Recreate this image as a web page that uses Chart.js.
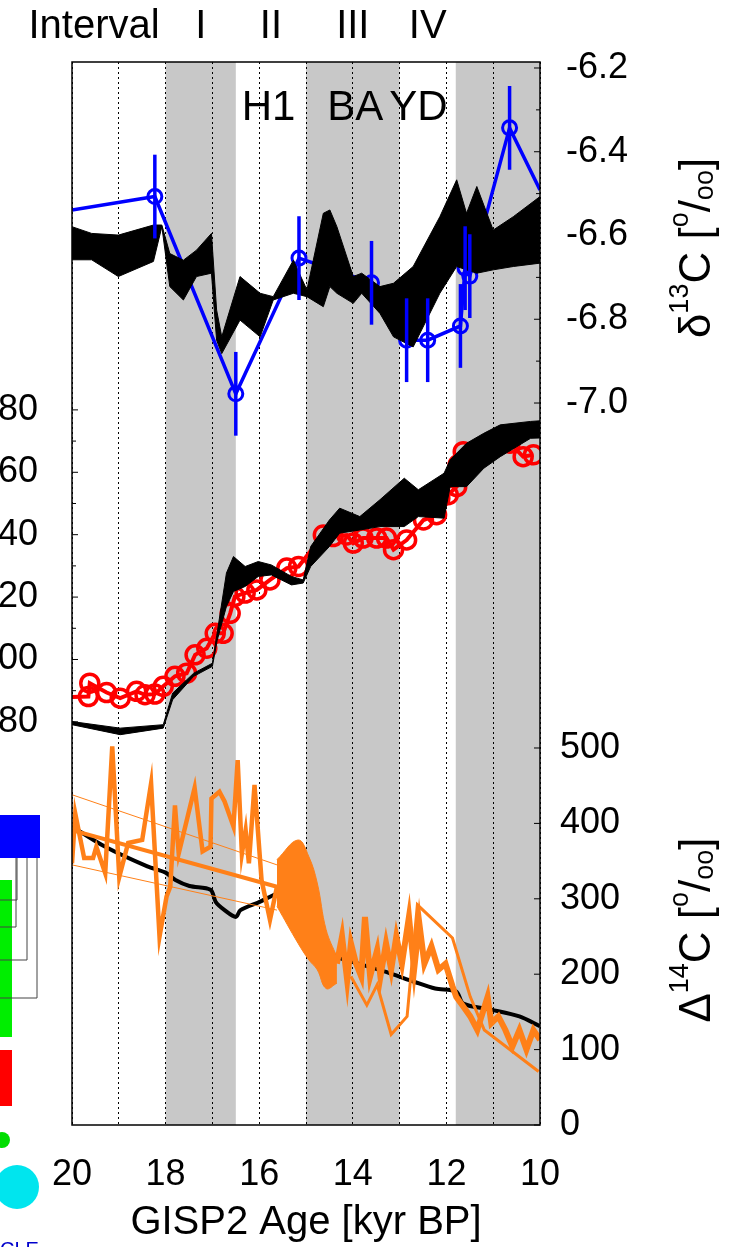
<!DOCTYPE html>
<html>
<head>
<meta charset="utf-8">
<script src="https://cdn.jsdelivr.net/npm/chart.js@4/dist/chart.umd.min.js"></script>
<style>
  body { margin: 0; background: #fff; }
  canvas { display: block; }
</style>
</head>
<body>
<canvas id="chart" width="733" height="1247"></canvas>
<script>
// d13C measurements (blue) with error bars
const d13cAge = [20.0, 18.23, 16.5, 15.15, 13.6, 12.85, 12.4, 11.7, 11.6, 11.5, 10.65, 10.0];
const d13cVal = [-6.539, -6.507, -6.978, -6.654, -6.713, -6.85, -6.85, -6.816, -6.678, -6.697, -6.343, -6.491];
const d13cErr = [0, 0.1, 0.1, 0.1, 0.1, 0.1, 0.1, 0.1, 0.1, 0.1, 0.1, 0];

// d13C model envelope (black)
const d13cBandAge = [20.0, 19.58, 19.01, 18.26, 18.08, 17.91, 17.62, 17.34, 17.02, 16.91, 16.80, 16.41, 15.98, 15.70, 15.27, 14.98, 14.63, 14.49, 14.34, 13.99, 13.81, 13.42, 13.13, 12.71, 12.14, 11.78, 11.57, 11.35, 11.0, 10.57, 10.0];
const d13cBandHi = [-6.579, -6.595, -6.599, -6.575, -6.575, -6.643, -6.659, -6.635, -6.595, -6.778, -6.842, -6.698, -6.738, -6.746, -6.659, -6.730, -6.547, -6.539, -6.579, -6.698, -6.690, -6.722, -6.714, -6.674, -6.555, -6.467, -6.547, -6.483, -6.587, -6.555, -6.507];
const d13cBandLo = [-6.658, -6.658, -6.698, -6.662, -6.579, -6.722, -6.754, -6.698, -6.690, -6.850, -6.882, -6.802, -6.842, -6.754, -6.738, -6.746, -6.770, -6.722, -6.738, -6.762, -6.738, -6.786, -6.842, -6.866, -6.738, -6.674, -6.682, -6.690, -6.682, -6.674, -6.666];

// CO2 record (red circles)
const co2Age = [20.0, 19.65, 19.62, 19.26, 18.97, 18.62, 18.44, 18.23, 18.05, 17.80, 17.55, 17.37, 17.12, 16.94, 16.77, 16.62, 16.52, 16.30, 16.05, 15.77, 15.41, 15.16, 14.63, 14.42, 14.13, 13.99, 13.78, 13.49, 13.28, 13.13, 12.85, 12.49, 12.21, 12.14, 11.96, 11.78, 11.75, 11.64, 11.43, 11.03, 10.64, 10.36, 10.14];
const co2Val = [188.0, 188.1, 192.4, 189.4, 187.6, 189.8, 188.7, 188.9, 191.4, 194.6, 195.6, 201.5, 203.6, 208.4, 208.4, 214.8, 220.2, 221.3, 222.3, 225.5, 229.3, 229.8, 239.9, 239.4, 239.9, 237.3, 238.9, 238.9, 238.9, 235.2, 238.3, 244.7, 246.4, 251.7, 252.8, 255.4, 262.4, 266.6, 266.1, 269.3, 269.3, 265.0, 265.6];

// CO2 model envelope (black)
const co2BandAge = [20.0, 18.97, 18.05, 17.85, 17.4, 17.0, 16.9, 16.7, 16.55, 16.3, 16.02, 15.74, 15.31, 15.06, 14.9, 14.5, 14.28, 13.85, 13.42, 12.9, 12.6, 12.05, 11.92, 11.57, 11.2, 10.85, 10.2, 10.0];
const co2BandHi = [180.1, 178.0, 179.1, 189.2, 195.6, 198.8, 208.4, 227.7, 233.0, 229.8, 231.4, 230.3, 226.6, 225.5, 236.2, 244.7, 248.5, 245.8, 251.2, 258.1, 254.4, 259.7, 264.0, 269.3, 272.5, 275.2, 276.3, 276.5];
const co2BandLo = [179.1, 175.9, 178.0, 187.1, 194.6, 197.8, 206.0, 217.0, 221.8, 223.4, 226.6, 227.1, 223.9, 224.5, 229.8, 236.2, 240.5, 241.5, 242.6, 242.6, 245.8, 245.3, 255.4, 255.4, 261.3, 265.0, 270.9, 271.0];

// D14C records (orange)
const d14cAgeA = [20.0, 19.93, 19.74, 19.55, 19.48, 19.29, 19.14, 18.99, 18.80, 18.50, 18.31, 18.13, 17.98, 17.90, 17.80, 17.72, 17.38, 17.21, 17.04, 17.02, 16.85, 16.74, 16.55, 16.46, 16.37, 16.29, 16.22, 16.10, 15.95, 15.77, 15.62];
const d14cValA = [347, 413, 354, 354, 369, 334, 502, 329, 374, 378, 453, 250, 303, 316, 424, 360, 447, 363, 369, 433, 442, 429, 396, 484, 360, 391, 347, 451, 325, 272, 316];
const d14cAgeB = [14.34, 14.23, 14.12, 14.04, 13.93, 13.82, 13.74, 13.63, 13.48, 13.41, 13.29, 13.18, 13.07, 12.95, 12.80, 12.69, 12.58, 12.47, 12.32, 12.17, 12.02, 11.87, 11.79, 11.64, 11.49, 11.34, 11.12, 11.04, 10.89, 10.74, 10.59, 10.44, 10.29, 10.14, 10.0];
const d14cValB = [214, 250, 192, 241, 214, 197, 276, 197, 232, 197, 241, 206, 250, 214, 276, 206, 268, 214, 237, 206, 214, 184, 170, 157, 144, 126, 170, 135, 144, 126, 104, 126, 100, 126, 113];
const d14cBandAge = [15.62, 15.17, 14.94, 14.76, 14.57, 14.34];
const d14cBandHi = [352, 378, 356, 321, 259, 223];
const d14cBandLo = [290, 241, 219, 206, 181, 188];
const d14cAgeC = [14.04, 13.70, 13.48, 13.18, 12.84, 12.62, 11.87, 11.49, 11.19, 10.03];
const d14cValC = [197, 159, 186, 120, 144, 292, 248, 170, 126, 71];
const d14cFitAge = [20.0, 15.62];
const d14cFit = [391, 316];
const d14cFitHi = [438, 345];
const d14cFitLo = [345, 285];

// D14C model (black line)
const d14cModelAge = [20.0, 19.29, 18.39, 18.01, 17.79, 17.49, 17.04, 16.93, 16.74, 16.5, 16.4, 15.99, 15.62, 15.39, 14.98, 14.79, 14.42, 14.04, 13.29, 12.69, 12.24, 11.79, 11.64, 11.04, 10.44, 10.0];
const d14cModel = [396, 369, 343, 335, 325, 317, 312, 296, 285, 276, 285, 296, 307, 309, 296, 267, 226, 217, 203, 190, 181, 177, 161, 153, 144, 131];

// axes, bands, labels
const grayBands = [[18, 16.5], [15, 13], [11.8, 10]];
const xTicks = [20, 18, 16, 14, 12, 10];
const d13cTicks = [-6.2, -6.4, -6.6, -6.8, -7.0];
const co2Ticks = [180, 200, 220, 240, 260, 280];
const d14cTicks = [0, 100, 200, 300, 400, 500];
const intervalNames = ['I', 'II', 'III', 'IV'];
const intervalAges = [17.25, 15.75, 14.0, 12.4];
const eventNames = ['H1', 'BA', 'YD'];
const eventAges = [15.8, 13.95, 12.6];

const FONT = '"Liberation Sans", Arial, sans-serif';
const pts = (xs, ys) => xs.map((x, i) => ({ x: x, y: ys[i] }));

const bgPlugin = {
  id: 'bg',
  beforeDraw(chart) {
    const { ctx, chartArea: a, scales } = chart;
    const x = scales.x;
    ctx.save();
    ctx.fillStyle = '#c8c8c8';
    grayBands.forEach(b => {
      const x0 = x.getPixelForValue(b[0]), x1 = x.getPixelForValue(b[1]);
      ctx.fillRect(Math.min(x0, x1), a.top, Math.abs(x1 - x0), a.bottom - a.top);
    });
    ctx.restore();
  },
  afterDatasetsDraw(chart) {
    const { ctx, chartArea: a, scales } = chart;
    const x = scales.x, y = scales.yd13c, y14 = scales.yd14c, yc = scales.yco2;
    ctx.save();
    // error bars
    ctx.strokeStyle = '#0000ff';
    ctx.lineWidth = 3.5;
    d13cAge.forEach((age, i) => {
      if (!d13cErr[i]) return;
      const px = x.getPixelForValue(age);
      ctx.beginPath();
      ctx.moveTo(px, y.getPixelForValue(d13cVal[i] + d13cErr[i]));
      ctx.lineTo(px, y.getPixelForValue(d13cVal[i] - d13cErr[i]));
      ctx.stroke();
    });
    // frame and inward ticks
    ctx.strokeStyle = '#000';
    ctx.lineWidth = 1.5;
    ctx.strokeRect(a.left, a.top, a.right - a.left, a.bottom - a.top);
    ctx.lineWidth = 1;
    const tick = (px, py, dx) => { ctx.beginPath(); ctx.moveTo(px, py); ctx.lineTo(px + dx, py); ctx.stroke(); };
    d13cTicks.forEach(v => tick(a.right, y.getPixelForValue(v), -6));
    [-6.3, -6.5, -6.7, -6.9].forEach(v => tick(a.right, y.getPixelForValue(v), -4));
    d14cTicks.forEach(v => tick(a.right, y14.getPixelForValue(v), -6));
    co2Ticks.forEach(v => tick(a.left, yc.getPixelForValue(v), 6));
    [190, 210, 230, 250, 270].forEach(v => tick(a.left, yc.getPixelForValue(v), 4));
    // D14C tick labels (right axis shared with d13C)
    ctx.fillStyle = '#000';
    ctx.font = '36px ' + FONT;
    ctx.textAlign = 'left';
    ctx.textBaseline = 'middle';
    d14cTicks.forEach(v => ctx.fillText(String(v), a.right + 20, y14.getPixelForValue(v)));
    // labels
    ctx.font = '40px ' + FONT;
    ctx.textAlign = 'center';
    ctx.fillText('Interval', 94, 27);
    intervalNames.forEach((n, i) => ctx.fillText(n, x.getPixelForValue(intervalAges[i]), 27));
    ctx.font = '42px ' + FONT;
    eventNames.forEach((n, i) => ctx.fillText(n, x.getPixelForValue(eventAges[i]), 108));
    // right axis titles
    const big = '44px ' + FONT, small = '27px ' + FONT;
    const title = (cy, parts) => {
      ctx.save();
      ctx.translate(698, cy);
      ctx.rotate(-Math.PI / 2);
      let w = 0;
      parts.forEach(p => { ctx.font = p[1] ? small : big; w += ctx.measureText(p[0]).width; });
      let cx = -w / 2;
      ctx.textAlign = 'left';
      parts.forEach(p => {
        ctx.font = p[1] ? small : big;
        ctx.fillText(p[0], cx, p[1] === 1 ? -17 : (p[1] === 2 ? 8 : 0));
        cx += ctx.measureText(p[0]).width;
      });
      ctx.restore();
    };
    title(248, [['\u03b4', 0], ['13', 1], ['C [', 0], ['o', 1], ['/', 0], ['oo', 2], [']', 0]]);
    title(930, [['\u0394', 0], ['14', 1], ['C [', 0], ['o', 1], ['/', 0], ['oo', 2], [']', 0]]);
    // neighbouring panel remnants on the left
    ctx.fillStyle = '#0000ff';
    ctx.fillRect(0, 815, 40, 43);
    ctx.fillStyle = '#00ee00';
    ctx.fillRect(0, 880, 12, 157);
    ctx.fillStyle = '#ff0000';
    ctx.fillRect(0, 1050, 12, 56);
    ctx.fillStyle = '#00dd00';
    ctx.beginPath(); ctx.arc(2, 1140, 8, 0, Math.PI * 2); ctx.fill();
    ctx.fillStyle = '#00e5ee';
    ctx.beginPath(); ctx.arc(17, 1187, 22, 0, Math.PI * 2); ctx.fill();
    ctx.strokeStyle = '#444';
    ctx.lineWidth = 1;
    [[17, 900], [27, 960], [37, 998], [16, 927]].forEach(l => {
      ctx.beginPath(); ctx.moveTo(l[0], 858); ctx.lineTo(l[0], l[1]); ctx.lineTo(0, l[1]); ctx.stroke();
    });
    ctx.fillStyle = '#0000cc';
    ctx.font = '20px ' + FONT;
    ctx.textAlign = 'left';
    ctx.fillText('CLE', 0, 1250);
    ctx.restore();
  }
};

const setTicks = list => axis => { axis.ticks = list.map(v => ({ value: v })); };
const tickFont = { family: FONT, size: 36 };

new Chart(document.getElementById('chart'), {
  type: 'line',
  data: {
    datasets: [
      { data: pts(d13cBandAge, d13cBandHi), yAxisID: 'yd13c', borderColor: '#000', borderWidth: 1, pointRadius: 0, fill: '+1', backgroundColor: '#000' },
      { data: pts(d13cBandAge, d13cBandLo), yAxisID: 'yd13c', borderColor: '#000', borderWidth: 1, pointRadius: 0, fill: false },
      { data: pts(co2BandAge, co2BandHi), yAxisID: 'yco2', borderColor: '#000', borderWidth: 1, pointRadius: 0, fill: '+1', backgroundColor: '#000' },
      { data: pts(co2BandAge, co2BandLo), yAxisID: 'yco2', borderColor: '#000', borderWidth: 1, pointRadius: 0, fill: false },
      { data: pts(d14cFitAge, d14cFitHi), yAxisID: 'yd14c', borderColor: '#ff8018', borderWidth: 1, pointRadius: 0, fill: false },
      { data: pts(d14cFitAge, d14cFitLo), yAxisID: 'yd14c', borderColor: '#ff8018', borderWidth: 1, pointRadius: 0, fill: false },
      { data: pts(d14cFitAge, d14cFit), yAxisID: 'yd14c', borderColor: '#ff8018', borderWidth: 4, pointRadius: 0, fill: false },
      { data: pts(d14cAgeA, d14cValA), yAxisID: 'yd14c', borderColor: '#ff8018', borderWidth: 4.5, pointRadius: 0, fill: false },
      { data: pts(d14cBandAge, d14cBandHi), yAxisID: 'yd14c', borderColor: '#ff8018', borderWidth: 1, pointRadius: 0, fill: '+1', backgroundColor: '#ff8018', tension: 0.4 },
      { data: pts(d14cBandAge, d14cBandLo), yAxisID: 'yd14c', borderColor: '#ff8018', borderWidth: 1, pointRadius: 0, fill: false, tension: 0.4 },
      { data: pts(d14cAgeB, d14cValB), yAxisID: 'yd14c', borderColor: '#ff8018', borderWidth: 6, pointRadius: 0, fill: false },
      { data: pts(d14cAgeC, d14cValC), yAxisID: 'yd14c', borderColor: '#ff8018', borderWidth: 3, pointRadius: 0, fill: false },
      { data: pts(d14cModelAge, d14cModel), yAxisID: 'yd14c', borderColor: '#000', borderWidth: 4, pointRadius: 0, fill: false, tension: 0.3 },
      { data: pts(co2Age, co2Val), yAxisID: 'yco2', borderColor: '#ff0000', borderWidth: 4, pointRadius: co2Age.map((a, i) => i === 0 ? 0 : 9), pointBorderWidth: 3.5, pointBorderColor: '#ff0000', pointBackgroundColor: 'rgba(0,0,0,0)', fill: false },
      { data: pts(d13cAge, d13cVal), yAxisID: 'yd13c', borderColor: '#0000ff', borderWidth: 3.5, pointRadius: d13cErr.map(e => e ? 7 : 0), pointBorderWidth: 3, pointBorderColor: '#0000ff', pointBackgroundColor: 'rgba(0,0,0,0)', fill: false }
    ]
  },
  options: {
    responsive: false,
    animation: false,
    devicePixelRatio: 1,
    layout: { padding: { left: 0, right: 0, top: 62, bottom: 0 } },
    plugins: { legend: { display: false }, tooltip: { enabled: false } },
    scales: {
      x: {
        type: 'linear', reverse: true, min: 10, max: 20,
        afterFit: axis => { axis.height = 122; },
        ticks: { stepSize: 1, font: tickFont, color: '#000', padding: 28, callback: v => xTicks.includes(v) ? String(v) : '' },
        grid: { color: '#000', lineWidth: 1, drawTicks: false },
        border: { dash: [2, 3], display: false },
        title: { display: true, text: 'GISP2 Age [kyr BP]', font: { family: FONT, size: 40 }, color: '#000', padding: { top: 0, bottom: 0 } }
      },
      yd13c: {
        type: 'linear', position: 'right', min: -8.724, max: -6.1857,
        afterBuildTicks: setTicks(d13cTicks), afterFit: axis => { axis.width = 193; },
        ticks: { font: tickFont, color: '#000', padding: 18, callback: v => v.toFixed(1) },
        grid: { display: false }, border: { display: false }
      },
      yd14c: {
        type: 'linear', position: 'right', min: 0, max: 1409.8, display: false
      },
      yco2: {
        type: 'linear', position: 'left', min: 50.8, max: 391.5,
        afterBuildTicks: setTicks(co2Ticks), afterFit: axis => { axis.width = 72; },
        ticks: { font: tickFont, color: '#000', padding: 26 },
        grid: { display: false }, border: { display: false }
      }
    }
  },
  plugins: [bgPlugin]
});
</script>
</body>
</html>
